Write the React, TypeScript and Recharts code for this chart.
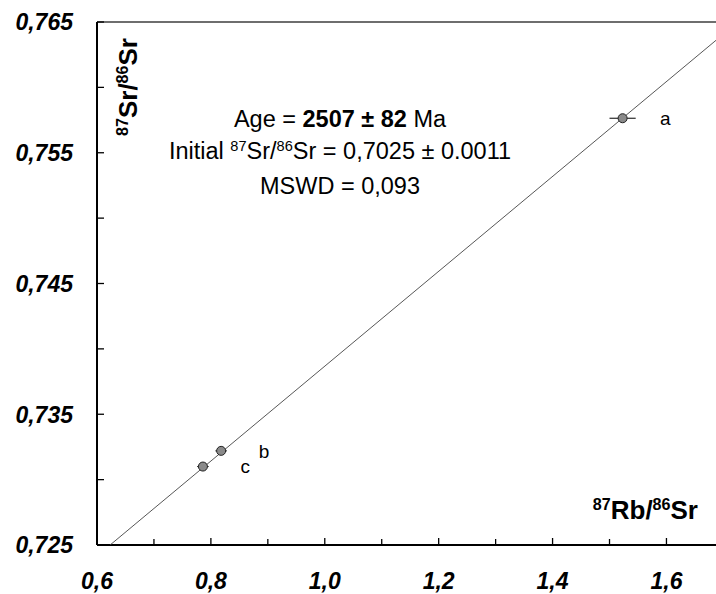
import React from 'react';
import { ScatterChart, Scatter, XAxis, YAxis, ErrorBar, ReferenceLine, LabelList } from 'recharts';

// Sample data
const sampleNames = ['a', 'b', 'c'];
const rbSr = [1.523, 0.818, 0.786];
const srSr = [0.75764, 0.7322, 0.731];
const rbSrErr = [0.023, 0.01, 0.01];

// Isochron end points
const isochronX = [0.623, 1.687];
const isochronY = [0.725, 0.7636];

// Axis ticks
const xTicks = [0.6, 0.7, 0.8, 0.9, 1.0, 1.1, 1.2, 1.3, 1.4, 1.5, 1.6];
const xTickLabels = ['0,6', '', '0,8', '', '1,0', '', '1,2', '', '1,4', '', '1,6'];
const yTicks = [0.725, 0.73, 0.735, 0.74, 0.745, 0.75, 0.755, 0.76, 0.765];
const yTickLabels = ['0,725', '', '0,735', '', '0,745', '', '0,755', '', '0,765'];

const xDomain = [0.6, 1.687];
const yDomain = [0.725, 0.765];

const samples = sampleNames.map((name, i) => ({ name, x: rbSr[i], y: srSr[i], err: rbSrErr[i] }));
const isochron = isochronX.map((x, i) => ({ x, y: isochronY[i] }));

const FONT = '"Liberation Sans", Arial, sans-serif';

const findIdx = (arr: number[], v: number) => arr.findIndex((t) => Math.abs(t - v) < 1e-6);

const YTick = (props: any) => {
  const { x, y, payload } = props;
  const i = findIdx(yTicks, payload.value);
  const label = i >= 0 ? yTickLabels[i] : '';
  return (
    <g>
      <line x1={x} x2={x + 7} y1={y} y2={y} stroke="#000" strokeWidth={1.3} />
      {label ? (
        <text x={x - 24} y={y} dy="0.36em" textAnchor="end" fontFamily={FONT} fontSize={23} fontWeight="bold" fontStyle="italic" fill="#000">
          {label}
        </text>
      ) : null}
    </g>
  );
};

const XTick = (props: any) => {
  const { x, y, payload } = props;
  const i = findIdx(xTicks, payload.value);
  const label = i >= 0 ? xTickLabels[i] : '';
  return (
    <g>
      <line x1={x} x2={x} y1={y} y2={y - (label ? 7 : 6)} stroke="#000" strokeWidth={1.3} />
      {label ? (
        <text x={x} y={y + 36} dy="0.36em" textAnchor="middle" fontFamily={FONT} fontSize={23} fontWeight="bold" fontStyle="italic" fill="#000">
          {label}
        </text>
      ) : null}
    </g>
  );
};

const Sup = ({ children }: { children: React.ReactNode }) => (
  <span style={{ fontSize: '0.62em', position: 'relative', top: '-0.55em' }}>{children}</span>
);

export default function App() {
  return (
    <div style={{ position: 'absolute', left: 0, top: 0, width: 716, height: 594, background: '#fff', fontFamily: FONT }}>
      <ScatterChart width={716} height={594} margin={{ top: 22, right: 0, bottom: 0, left: 0 }}>
        <XAxis
          type="number"
          dataKey="x"
          domain={xDomain}
          ticks={xTicks}
          interval={0}
          allowDataOverflow
          height={49}
          tickSize={0}
          tickMargin={0}
          tickLine={false}
          axisLine={{ stroke: '#000', strokeWidth: 2 }}
          tick={(p: any) => <XTick {...p} />}
        />
        <YAxis
          type="number"
          dataKey="y"
          domain={yDomain}
          ticks={yTicks}
          interval={0}
          allowDataOverflow
          width={97}
          tickSize={0}
          tickMargin={0}
          tickLine={false}
          axisLine={{ stroke: '#000', strokeWidth: 2 }}
          tick={(p: any) => <YTick {...p} />}
        />
        <ReferenceLine y={0.765} stroke="#6e6e6e" strokeWidth={2} />
        <Scatter
          data={isochron}
          line={{ stroke: '#444', strokeWidth: 0.9 }}
          shape={() => null}
          isAnimationActive={false}
        />
        <Scatter data={samples} fill="#8a8a8a" stroke="#222" strokeWidth={1} isAnimationActive={false}>
          <ErrorBar dataKey="err" direction="x" width={0} stroke="#000" strokeWidth={1} />
          <LabelList dataKey="name" position="right" offset={33} fontFamily={FONT} fontSize={19} fill="#000" />
        </Scatter>
      </ScatterChart>

      <div
        style={{
          position: 'absolute',
          left: 128,
          top: 87,
          transform: 'translate(-50%, -50%) rotate(-90deg)',
          whiteSpace: 'nowrap',
          fontSize: 26,
          fontWeight: 'bold',
          lineHeight: 1,
          color: '#000',
        }}
      >
        <Sup>87</Sup>Sr/<Sup>86</Sup>Sr
      </div>

      <div
        style={{
          position: 'absolute',
          right: 18,
          top: 497,
          whiteSpace: 'nowrap',
          fontSize: 26,
          fontWeight: 'bold',
          lineHeight: 1,
          color: '#000',
        }}
      >
        <Sup>87</Sup>Rb/<Sup>86</Sup>Sr
      </div>

      <div
        style={{
          position: 'absolute',
          left: 340,
          top: 103,
          transform: 'translateX(-50%)',
          whiteSpace: 'nowrap',
          textAlign: 'center',
          fontSize: 23.5,
          lineHeight: '32px',
          color: '#000',
        }}
      >
        <div>
          Age = <b>2507 ± 82</b> Ma
        </div>
        <div>
          Initial <Sup>87</Sup>Sr/<Sup>86</Sup>Sr = 0,7025 ± 0.0011
        </div>
        <div>MSWD = 0,093</div>
      </div>
    </div>
  );
}
